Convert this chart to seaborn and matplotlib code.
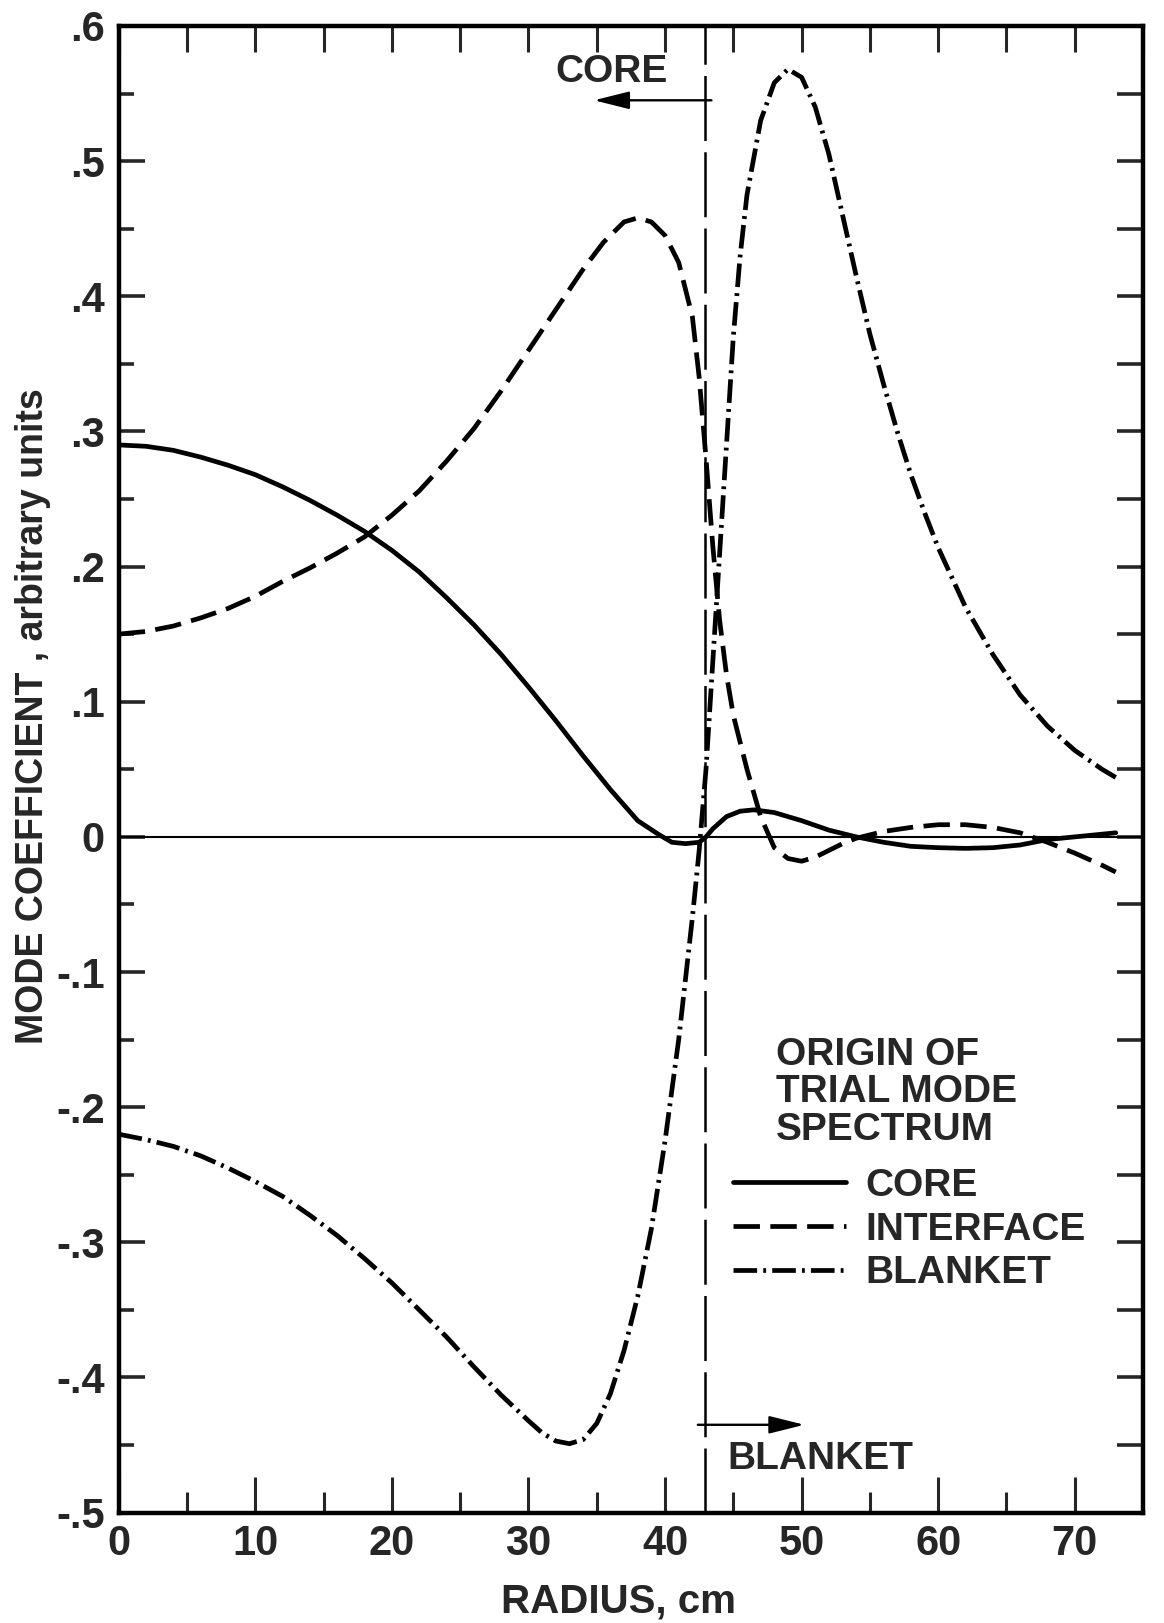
import numpy as np
import pandas as pd
import matplotlib
matplotlib.use("Agg")
import matplotlib.pyplot as plt
import seaborn as sns
from matplotlib.ticker import FixedLocator, MultipleLocator

# ---------------- data ----------------
core_r = [0, 2, 4, 6, 8, 10, 12, 14, 16, 18, 20, 22, 24, 26, 28, 30, 32, 34, 36, 38,
          39.5, 40.5, 41.5, 42.5, 43, 43.5, 44.5, 45.5, 46.5, 48, 50, 52, 54, 56, 58,
          60, 62, 64, 66, 68, 70, 72, 73]
core_c = [0.290, 0.289, 0.286, 0.281, 0.275, 0.268, 0.259, 0.249, 0.238, 0.226, 0.212,
          0.196, 0.177, 0.157, 0.135, 0.111, 0.086, 0.060, 0.035, 0.012,
          0.002, -0.004, -0.005, -0.004, 0.0, 0.006, 0.015, 0.019, 0.020, 0.018, 0.012,
          0.005, 0.0, -0.004, -0.007, -0.008, -0.0085, -0.008, -0.006, -0.002, 0.0,
          0.002, 0.003]

interface_r = [0, 2, 4, 6, 8, 10, 12, 14, 16, 18, 20, 22, 24, 26, 28, 30, 32, 34, 35.5,
               37, 38, 39, 40, 41, 42, 42.5, 43, 43.5, 44, 44.5, 45, 46, 47, 48, 49, 50,
               51, 52, 53, 54, 56, 58, 60, 62, 64, 66, 68, 70, 72, 73]
interface_c = [0.150, 0.152, 0.156, 0.162, 0.169, 0.178, 0.189, 0.199, 0.210, 0.222,
               0.238, 0.256, 0.278, 0.302, 0.330, 0.360, 0.390, 0.420, 0.440, 0.455,
               0.458, 0.455, 0.445, 0.425, 0.385, 0.340, 0.280, 0.215, 0.160, 0.120,
               0.090, 0.050, 0.015, -0.008, -0.016, -0.018, -0.015, -0.010, -0.005,
               -0.001, 0.004, 0.007, 0.009, 0.009, 0.007, 0.003, -0.004, -0.012,
               -0.021, -0.026]

blanket_r = [0, 2, 4, 6, 8, 10, 12, 14, 16, 18, 20, 22, 24, 26, 28, 30, 31, 32, 33, 34,
             35, 36, 37, 38, 39, 40, 41, 42, 42.5, 43, 43.5, 44, 44.5, 45, 45.5, 46, 47,
             48, 49, 50, 51, 52, 53, 54, 55, 56, 57, 58, 59, 60, 62, 64, 66, 68, 70, 72, 73]
blanket_c = [-0.220, -0.224, -0.229, -0.236, -0.245, -0.255, -0.266, -0.280, -0.295,
             -0.312, -0.330, -0.350, -0.370, -0.392, -0.413, -0.432, -0.441, -0.447,
             -0.449, -0.446, -0.434, -0.412, -0.380, -0.340, -0.290, -0.225, -0.150,
             -0.060, -0.010, 0.050, 0.130, 0.210, 0.290, 0.370, 0.430, 0.475, 0.530,
             0.558, 0.568, 0.562, 0.540, 0.505, 0.460, 0.415, 0.372, 0.335, 0.300,
             0.268, 0.240, 0.214, 0.170, 0.135, 0.105, 0.082, 0.064, 0.050, 0.044]

series_names = ["CORE", "INTERFACE", "BLANKET"]
boundary_r = 42.9

x_ticks = [0, 10, 20, 30, 40, 50, 60, 70]
x_tick_labels = ["0", "10", "20", "30", "40", "50", "60", "70"]
y_ticks = [0.6, 0.5, 0.4, 0.3, 0.2, 0.1, 0.0, -0.1, -0.2, -0.3, -0.4, -0.5]
y_tick_labels = [".6", ".5", ".4", ".3", ".2", ".1", "0", "-.1", "-.2", "-.3", "-.4", "-.5"]

# ---------------- style ----------------
sns.set_style("white")
FONT = ["Liberation Sans", "DejaVu Sans"]
plt.rcParams["font.family"] = FONT
plt.rcParams["font.weight"] = "bold"

fig = plt.figure(figsize=(11.64, 16.23), dpi=100)
ax = fig.add_axes([0.102, 0.068, 0.880, 0.916])

LW = 3.4
styles = {
    "CORE": "-",
    "INTERFACE": (0, (5.6, 2.2)),
    "BLANKET": (0, (5.0, 1.3, 0.6, 1.3)),
}
data = {
    "CORE": (core_r, core_c),
    "INTERFACE": (interface_r, interface_c),
    "BLANKET": (blanket_r, blanket_c),
}
handles = []
for name in series_names:
    r, c = data[name]
    df = pd.DataFrame({"r": r, "c": c})
    n_before = len(ax.lines)
    sns.lineplot(data=df, x="r", y="c", ax=ax, color="black", linewidth=LW,
                 linestyle=styles[name], estimator=None, sort=False, label=name,
                 legend=False)
    line = ax.lines[n_before]
    line.set_dash_capstyle("butt")
    line.set_solid_joinstyle("round")
    handles.append(line)

# zero line and core/blanket boundary
ax.axhline(0, color="black", linewidth=1.5, zorder=1)
ax.axvline(boundary_r, color="black", linewidth=1.8, linestyle=(0, (26, 4.5)), zorder=1)

ax.set_xlim(0, 75)
ax.set_ylim(-0.5, 0.6)

# ticks
ax.xaxis.set_major_locator(FixedLocator(x_ticks))
ax.set_xticklabels(x_tick_labels)
ax.xaxis.set_minor_locator(FixedLocator([5, 15, 25, 35, 45, 55, 65]))
ax.yaxis.set_major_locator(FixedLocator(y_ticks))
ax.set_yticklabels(y_tick_labels)
ax.yaxis.set_minor_locator(MultipleLocator(0.05))
ax.tick_params(axis="x", which="major", direction="in", length=26, width=2.2,
               labelsize=30, pad=8, bottom=True, top=False)
ax.tick_params(axis="x", which="minor", direction="in", length=15, width=2.2,
               bottom=True, top=False)
ax.tick_params(axis="y", which="major", direction="in", length=19, width=2.6,
               labelsize=30, pad=10, left=True, right=False)
ax.tick_params(axis="y", which="minor", direction="in", length=11, width=2.6,
               left=True, right=False)

# top and right ticks (uniform length)
secx = ax.secondary_xaxis("top")
secx.xaxis.set_major_locator(MultipleLocator(5))
secx.tick_params(axis="x", direction="in", length=19, width=2.2, labeltop=False)
secy = ax.secondary_yaxis("right")
secy.yaxis.set_major_locator(MultipleLocator(0.05))
secy.tick_params(axis="y", direction="in", length=19, width=2.6, labelright=False)
for s in list(secx.spines.values()) + list(secy.spines.values()):
    s.set_visible(False)

for s in ax.spines.values():
    s.set_linewidth(3.2)
    s.set_color("black")

ax.set_xlabel("RADIUS, cm", fontsize=29, fontweight="bold")
ax.xaxis.set_label_coords(0.488, -0.047)
ax.set_ylabel("MODE COEFFICIENT , arbitrary units", fontsize=27, fontweight="bold")
ax.yaxis.set_label_coords(-0.066, 0.536)

# region annotations
arrow_kw = dict(arrowstyle="-|>,head_length=1.08,head_width=0.27", color="black",
                lw=1.7, mutation_scale=20, shrinkA=0, shrinkB=0)
ax.annotate("", xy=(34.8, 0.545), xytext=(43.4, 0.545), arrowprops=arrow_kw)
ax.text(32.0, 0.566, "CORE", fontsize=28, fontweight="bold", ha="left", va="center")
ax.annotate("", xy=(50.2, -0.435), xytext=(42.4, -0.435), arrowprops=arrow_kw)
ax.text(44.6, -0.460, "BLANKET", fontsize=28, fontweight="bold", ha="left", va="center")

# legend
ax.text(48.1, -0.148, "ORIGIN OF\nTRIAL MODE\nSPECTRUM", fontsize=28,
        fontweight="bold", ha="left", va="top", linespacing=1.05,
        transform=ax.transData)
leg = ax.legend(handles=handles, labels=series_names, loc="upper left",
                bbox_to_anchor=(0.600, 0.232), frameon=False, fontsize=28,
                handlelength=2.9, handletextpad=0.5, labelspacing=0.2,
                borderpad=0, borderaxespad=0)
for t in leg.get_texts():
    t.set_fontweight("bold")

fig.savefig("out.png", dpi=100)
